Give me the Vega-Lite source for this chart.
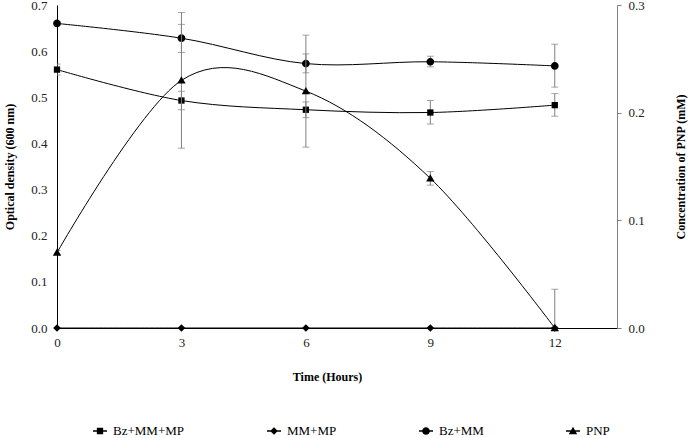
{
  "$schema": "https://vega.github.io/schema/vega-lite/v6.json",
  "width": 560,
  "height": 323,
  "autosize": {"type": "none"},
  "padding": {"left": 57, "top": 5, "right": 76, "bottom": 110},
  "background": "white",
  "config": {
    "view": {"stroke": null},
    "font": "Liberation Serif, Times New Roman, serif",
    "axis": {
      "labelFont": "Liberation Serif, Times New Roman, serif",
      "labelFontSize": 13,
      "labelColor": "#222222",
      "titleFont": "Liberation Serif, Times New Roman, serif",
      "titleFontSize": 12,
      "titleFontWeight": "bold",
      "titleColor": "black",
      "grid": false
    },
    "legend": {
      "orient": "none",
      "legendX": 36,
      "legendY": 419,
      "direction": "horizontal",
      "columns": 4,
      "gridAlign": "none",
      "columnPadding": 82,
      "symbolSize": 196,
      "labelFont": "Liberation Serif, Times New Roman, serif",
      "labelFontSize": 13,
      "labelColor": "black",
      "labelOffset": 6,
      "padding": 0,
      "symbolOpacity": 1,
      "symbolStrokeWidth": 0,
      "symbolFillColor": "black"
    }
  },
  "data": {
    "values": [
      {"t": 0, "series": "Bz+MM+MP", "v": 0.56, "lo": 0.548, "hi": 0.572},
      {"t": 3, "series": "Bz+MM+MP", "v": 0.493, "lo": 0.473, "hi": 0.513},
      {"t": 6, "series": "Bz+MM+MP", "v": 0.473, "lo": 0.456, "hi": 0.49},
      {"t": 9, "series": "Bz+MM+MP", "v": 0.467, "lo": 0.442, "hi": 0.493},
      {"t": 12, "series": "Bz+MM+MP", "v": 0.483, "lo": 0.459, "hi": 0.508},
      {"t": 0, "series": "MM+MP", "v": 0, "lo": null, "hi": null},
      {"t": 3, "series": "MM+MP", "v": 0, "lo": null, "hi": null},
      {"t": 6, "series": "MM+MP", "v": 0, "lo": null, "hi": null},
      {"t": 9, "series": "MM+MP", "v": 0, "lo": null, "hi": null},
      {"t": 12, "series": "MM+MP", "v": 0, "lo": null, "hi": null},
      {"t": 0, "series": "Bz+MM", "v": 0.66, "lo": 0.656, "hi": 0.664},
      {"t": 3, "series": "Bz+MM", "v": 0.628, "lo": 0.597, "hi": 0.658},
      {"t": 6, "series": "Bz+MM", "v": 0.573, "lo": 0.553, "hi": 0.594},
      {"t": 9, "series": "Bz+MM", "v": 0.577, "lo": 0.566, "hi": 0.589},
      {"t": 12, "series": "Bz+MM", "v": 0.568, "lo": 0.522, "hi": 0.615},
      {"t": 0, "series": "PNP", "v": 0.07, "lo": 0.068, "hi": 0.072},
      {"t": 3, "series": "PNP", "v": 0.23, "lo": 0.167, "hi": 0.293},
      {"t": 6, "series": "PNP", "v": 0.22, "lo": 0.168, "hi": 0.272},
      {"t": 9, "series": "PNP", "v": 0.139, "lo": 0.1327, "hi": 0.1453},
      {"t": 12, "series": "PNP", "v": 0, "lo": -0.036, "hi": 0.036}
    ]
  },
  "encoding": {
    "x": {
      "field": "t",
      "type": "quantitative",
      "scale": {"domain": [0, 13.5], "nice": false, "zero": false},
      "axis": {
        "values": [0, 3, 6, 9, 12],
        "title": "Time (Hours)",
        "ticks": false,
        "domainColor": "black",
        "labelPadding": 8,
        "titlePadding": 22,
        "titleX": 270,
        "labelFlush": false
      }
    }
  },
  "layer": [
    {
      "transform": [{"filter": "datum.series !== 'PNP'"}],
      "encoding": {
        "y": {
          "field": "v",
          "type": "quantitative",
          "scale": {"domain": [0, 0.7], "nice": false},
          "axis": {
            "title": "Optical density (600 nm)",
            "values": [0, 0.1, 0.2, 0.3, 0.4, 0.5, 0.6, 0.7],
            "format": ".1f",
            "ticks": false,
            "domainColor": "black",
            "labelPadding": 10,
            "titlePadding": 14
          }
        }
      },
      "layer": [
        {
          "transform": [{"filter": "datum.lo != null"}],
          "mark": {"type": "errorbar", "ticks": {"size": 7, "color": "#7f7f7f"}, "rule": {"color": "#7f7f7f", "strokeWidth": 1}, "clip": true},
          "encoding": {
            "y": {"field": "lo", "type": "quantitative"},
            "y2": {"field": "hi"}
          }
        },
        {
          "mark": {"type": "line", "interpolate": "cardinal", "color": "black", "strokeWidth": 1},
          "encoding": {"detail": {"field": "series"}}
        },
        {
          "mark": {"type": "point", "filled": true, "color": "black", "opacity": 1, "size": 196, "strokeWidth": 0},
          "encoding": {
            "shape": {
              "field": "series",
              "type": "nominal",
              "scale": {
                "domain": ["Bz+MM+MP", "MM+MP", "Bz+MM"],
                "range": [
                  "M-0.45,-0.45H0.45V0.45H-0.45Z",
                  "M0,-0.55L0.55,0L0,0.55L-0.55,0Z",
                  "M0.55,0A0.55,0.55,0,1,1,-0.55,0A0.55,0.55,0,1,1,0.55,0Z"
                ]
              },
              "legend": null
            }
          }
        }
      ]
    },
    {
      "transform": [{"filter": "datum.series === 'PNP'"}],
      "encoding": {
        "y": {
          "field": "v",
          "type": "quantitative",
          "scale": {"domain": [0, 0.3], "nice": false},
          "axis": {
            "orient": "right",
            "title": "Concentration of PNP (mM)",
            "titleAngle": 270,
            "values": [0, 0.1, 0.2, 0.3],
            "format": ".1f",
            "tickSize": 4,
            "tickColor": "#7f7f7f",
            "domainColor": "#7f7f7f",
            "labelPadding": 7,
            "titlePadding": 43
          }
        }
      },
      "layer": [
        {
          "mark": {"type": "errorbar", "ticks": {"size": 7, "color": "#7f7f7f"}, "rule": {"color": "#7f7f7f", "strokeWidth": 1}, "clip": true},
          "encoding": {
            "y": {"field": "lo", "type": "quantitative"},
            "y2": {"field": "hi"}
          }
        },
        {
          "mark": {"type": "line", "interpolate": "cardinal", "color": "black", "strokeWidth": 1}
        },
        {
          "mark": {"type": "point", "filled": true, "color": "black", "opacity": 1, "size": 196, "strokeWidth": 0},
          "encoding": {
            "shape": {
              "field": "series",
              "type": "nominal",
              "scale": {"domain": ["PNP"], "range": ["M0,-0.6L0.6,0.45L-0.6,0.45Z"]},
              "legend": null
            }
          }
        }
      ]
    },
    {
      "mark": {"type": "point", "filled": true, "color": "black", "opacity": 0, "size": 196, "strokeWidth": 0},
      "encoding": {
        "shape": {
          "field": "series",
          "type": "nominal",
          "scale": {
            "domain": ["Bz+MM+MP", "MM+MP", "Bz+MM", "PNP"],
            "range": [
              "M-1,-0.1H1V0.1H-1ZM-0.45,-0.45H0.45V0.45H-0.45Z",
              "M-1,-0.1H1V0.1H-1ZM0,-0.55L0.55,0L0,0.55L-0.55,0Z",
              "M-1,-0.1H1V0.1H-1ZM0.55,0A0.55,0.55,0,1,1,-0.55,0A0.55,0.55,0,1,1,0.55,0Z",
              "M-1,-0.1H1V0.1H-1ZM0,-0.6L0.6,0.45L-0.6,0.45Z"
            ]
          },
          "legend": {"title": null}
        }
      }
    }
  ],
  "resolve": {"scale": {"y": "independent", "shape": "independent"}}
}
